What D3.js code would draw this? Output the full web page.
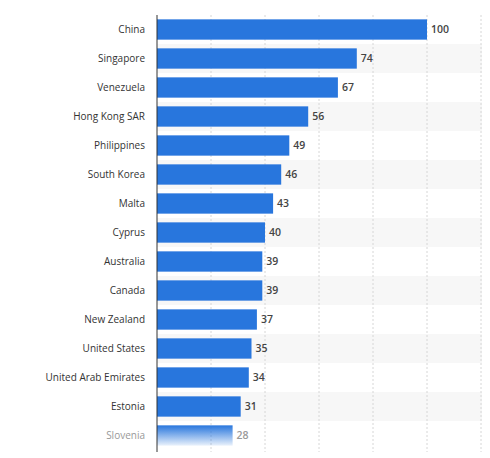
<!DOCTYPE html>
<html><head><meta charset="utf-8">
<script src="https://cdn.jsdelivr.net/npm/d3@7"></script>
<style>body{margin:0;background:#fff}text{font-family:"Open Sans",sans-serif}</style>
</head><body><svg width="490" height="458"></svg>
<script>
const countries = ['China','Singapore','Venezuela','Hong Kong SAR','Philippines','South Korea','Malta','Cyprus','Australia','Canada','New Zealand','United States','United Arab Emirates','Estonia','Slovenia'];
const values = [100,74,67,56,49,46,43,40,39,39,37,35,34,31,28];
const ticks = [0,20,40,60,80,100,120];

const svg = d3.select('svg');
const x = d3.scaleLinear().domain([0,120]).range([157,481]);
const y = d3.scaleBand().domain(countries).range([15,15+29*15]).paddingInner(0.3).paddingOuter(0.15);
const step = y.step();

const defs = svg.append('defs');
const g = defs.append('linearGradient').attr('id','fade').attr('x1',0).attr('x2',0).attr('y1',0).attr('y2',1);
g.append('stop').attr('offset','0%').attr('stop-color','#2876dd');
g.append('stop').attr('offset','100%').attr('stop-color','#2876dd').attr('stop-opacity',0.1);

// stripes
svg.selectAll('.stripe').data(countries.filter((d,i)=>i%2==1)).enter().append('rect')
  .attr('x',157).attr('width',325).attr('y',d=>y(d)-y.step()*y.paddingInner()/2).attr('height',step)
  .attr('fill','#f7f7f7');

// grid
svg.selectAll('.grid').data(ticks.slice(1)).enter().append('line')
  .attr('x1',d=>x(d)).attr('x2',d=>x(d)).attr('y1',15).attr('y2',452)
  .attr('stroke','#d6d6d6').attr('stroke-dasharray','2,2');

svg.selectAll('.bar').data(values).enter().append('rect')
  .attr('x',x(0)).attr('y',(d,i)=>y(countries[i])).attr('height',y.bandwidth())
  .attr('width',d=>x(d)-x(0))
  .attr('fill',(d,i)=>i==countries.length-1?'url(#fade)':'#2876dd');

svg.selectAll('.val').data(values).enter().append('text')
  .attr('x',d=>x(d)+4).attr('y',(d,i)=>y(countries[i])+y.bandwidth()/2).attr('dy','0.35em')
  .attr('font-size',10.5).attr('font-weight',600)
  .attr('fill',(d,i)=>i==countries.length-1?'#999':'#444').text(d=>d);

svg.selectAll('.lab').data(countries).enter().append('text')
  .attr('x',145).attr('y',d=>y(d)+y.bandwidth()/2).attr('dy','0.35em')
  .attr('text-anchor','end').attr('font-size',10)
  .attr('fill',(d,i)=>i==countries.length-1?'#999':'#333').text(d=>d);

svg.append('line').attr('x1',157).attr('x2',157).attr('y1',15).attr('y2',452).attr('stroke','#333');
</script></body></html>
